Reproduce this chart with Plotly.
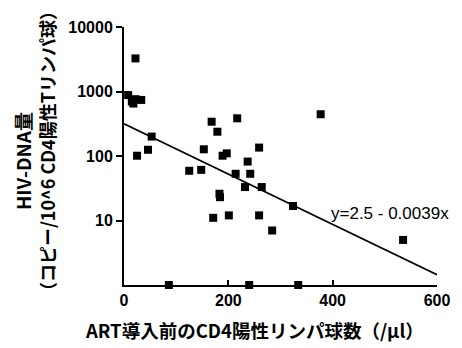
import numpy as np
import plotly.graph_objects as go

# CD4 count before ART (/µl) and HIV-DNA copies per 10^6 CD4+ T cells
cd4 = [22, 8, 15, 22, 33, 18, 25, 46, 53, 125, 148, 153, 168, 179, 217, 377,
       189, 197, 214, 237, 242, 259, 232, 264, 183, 184, 171, 201, 259, 284,
       324, 535, 86, 240, 334]
hiv_dna = [3260, 880, 700, 760, 740, 650, 101, 125, 200, 59, 61, 127, 340, 238, 384, 444,
           101, 110, 53, 82, 53, 135, 33, 33, 26, 23, 11, 12, 12, 7.0,
           16.8, 5.0, 1, 1, 1]

intercept = 2.5
slope = -0.0039
fit_x = [0, 600]

x_ticks = [0, 200, 400, 600]
y_ticks = [10, 100, 1000, 10000]
y_ticktext = ["10", "100", "1000", "10000"]

fit_y = [10 ** (intercept + slope * v) for v in fit_x]

fig = go.Figure()
fig.add_trace(go.Scatter(x=fit_x, y=fit_y, mode="lines",
                         line=dict(color="black", width=1.6), showlegend=False,
                         hoverinfo="skip"))
fig.add_trace(go.Scatter(x=cd4, y=hiv_dna, mode="markers",
                         marker=dict(symbol="square", size=8, color="black"),
                         showlegend=False, cliponaxis=False))

numfont = dict(family="Liberation Sans, Arial, sans-serif", size=16, color="black",
               weight="bold")
fig.update_xaxes(range=[0, 600], tickvals=x_ticks, ticks="inside", ticklen=5,
                 tickwidth=1.5, tickcolor="black", showline=True, linecolor="black",
                 linewidth=2, showgrid=False, zeroline=False, tickfont=numfont)
fig.update_yaxes(type="log", range=[0, 4], tickvals=y_ticks, ticktext=y_ticktext,
                 ticks="outside", ticklen=6, tickwidth=1.5, tickcolor="black",
                 showline=True, linecolor="black", linewidth=2, showgrid=False,
                 zeroline=False, tickfont=numfont)

jp = "Noto Sans CJK JP"
fig.add_annotation(text="<b>HIV-DNA量</b>", xref="paper", yref="paper", x=0, y=0.4805,
                   xanchor="center", yanchor="middle", xshift=-102, textangle=-90,
                   showarrow=False, font=dict(family=jp, size=19, color="black"))
fig.add_annotation(text="<b>（コピー/10^6 CD4陽性Tリンパ球）</b>", xref="paper", yref="paper",
                   x=0, y=0.519, xanchor="center", yanchor="middle", xshift=-77,
                   textangle=-90, showarrow=False,
                   font=dict(family=jp, size=18, color="black"))
fig.add_annotation(text="<b>ART導入前のCD4陽性リンパ球数（/μl）</b>", xref="paper",
                   yref="paper", x=0.396, y=0, xanchor="center", yanchor="middle",
                   yshift=-45, xshift=7, showarrow=False,
                   font=dict(family=jp, size=18.5, color="black"))
fig.add_annotation(text="y=2.5 - 0.0039x", xref="x", yref="y", x=510, y=1.116,
                   xanchor="center", yanchor="middle", showarrow=False,
                   font=dict(family="Liberation Sans, Arial, sans-serif", size=17,
                             color="black"))

fig.update_layout(width=462, height=348, margin=dict(l=124, r=17, t=27, b=63),
                  plot_bgcolor="white", paper_bgcolor="white")
fig.write_html("out.html", config={"displayModeBar": False},
               post_script="document.body.style.margin='0';document.body.style.overflow='hidden';")
